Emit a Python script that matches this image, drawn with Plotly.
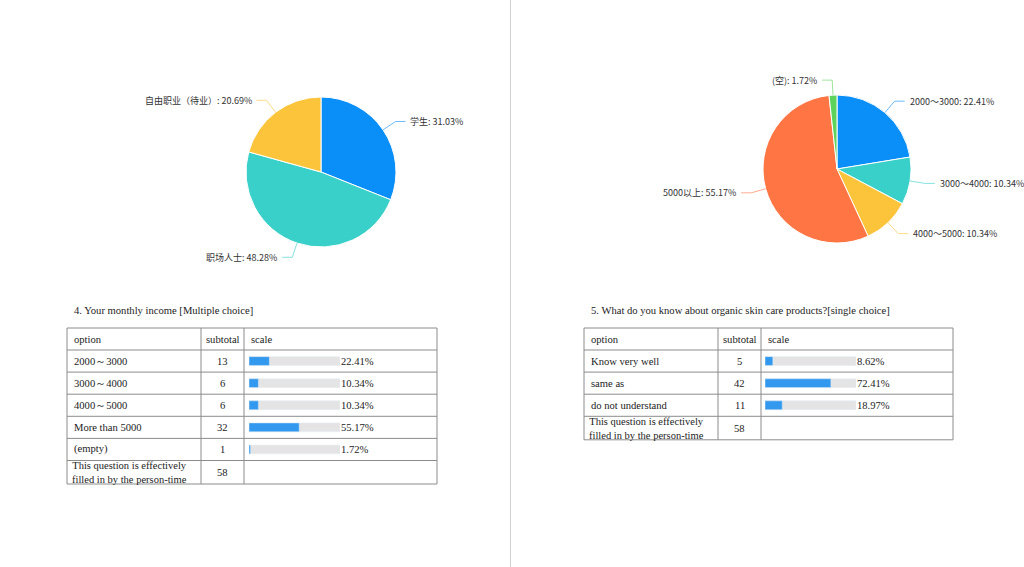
import math
import plotly.graph_objects as go

W, H = 1024, 567

# ---------------- data ----------------
pie1_labels = ["学生", "职场人士", "自由职业（待业）"]
pie1_values = [31.03, 48.28, 20.69]
pie1_colors = ["#0a8ff9", "#38d0c8", "#fcc43b"]

pie2_labels = ["2000～3000", "3000～4000", "4000～5000", "5000以上", "(空)"]
pie2_values = [22.41, 10.34, 10.34, 55.17, 1.72]
pie2_colors = ["#0a8ff9", "#38d0c8", "#fcc43b", "#ff7644", "#5ed35c"]

t1_title = "4. Your monthly income [Multiple choice]"
t1_options = ["2000～3000", "3000～4000", "4000～5000", "More than 5000", "(empty)"]
t1_counts = [13, 6, 6, 32, 1]
t1_pcts = [22.41, 10.34, 10.34, 55.17, 1.72]
t1_total = 58

t2_title = "5. What do you know about organic skin care products?[single choice]"
t2_options = ["Know very well", "same as", "do not understand"]
t2_counts = [5, 42, 11]
t2_pcts = [8.62, 72.41, 18.97]
t2_total = 58

header = ["option", "subtotal", "scale"]
total_label = "This question is effectively<br>filled in by the person-time"


def X(px):
    return px / W


def Y(py):
    return 1 - py / H


fig = go.Figure()
shapes = []
annotations = []

SANS = "Noto Sans CJK SC"
SERIF = "Liberation Serif"


def add_pie(labels, values, colors, cx, cy, r):
    fig.add_trace(go.Pie(
        labels=labels, values=values, sort=False, direction="clockwise",
        rotation=0, textinfo="none", hoverinfo="label+percent",
        marker=dict(colors=colors, line=dict(color="white", width=1)),
        domain=dict(x=[X(cx - r), X(cx + r)], y=[Y(cy + r), Y(cy - r)]),
        showlegend=False,
    ))
    tot = sum(values)
    cum = 0
    for lab, v, c in zip(labels, values, colors):
        mid = (cum + v / 2) / tot * 2 * math.pi
        cum += v
        s, co = math.sin(mid), math.cos(mid)
        x0, y0 = cx + r * s, cy - r * co
        x1, y1 = cx + (r + 15) * s, cy - (r + 15) * co
        side = 1 if s >= 0 else -1
        x2 = x1 + side * 10
        shapes.append(dict(type="path", xref="paper", yref="paper",
                           path=f"M {X(x0)} {Y(y0)} L {X(x1)} {Y(y1)} L {X(x2)} {Y(y1)}",
                           line=dict(color=c, width=1), opacity=0.6))
        annotations.append(dict(x=X(x2 + side * 3), y=Y(y1), xref="paper", yref="paper",
                                text=f"{lab}: {v:.2f}%", showarrow=False,
                                xanchor="left" if side > 0 else "right", yanchor="middle",
                                font=dict(family=SANS, size=9, color="#333333")))


add_pie(pie1_labels, pie1_values, pie1_colors, 321, 172, 75)
add_pie(pie2_labels, pie2_values, pie2_colors, 837, 169, 74)


def add_table(idx, title, options, counts, pcts, total, left, c1, c2, bar0, bar1, right):
    top, head_b, rh, last_h = 328, 350, 22.1, 23.5
    n = len(options)
    rows_bottom = head_b + rh * n
    bottom = rows_bottom + last_h
    line = dict(color="#8c8c8c", width=1)
    f = dict(family=SERIF, size=10.6, color="#222222")
    annotations.append(dict(x=X(left + 5), y=Y(310), text=title, xanchor="left", font=f))
    shapes.append(dict(type="rect", xref="paper", yref="paper", x0=X(left), x1=X(right),
                       y0=Y(top), y1=Y(bottom), line=line))
    for xx in (c1, c2):
        shapes.append(dict(type="line", xref="paper", yref="paper", x0=X(xx), x1=X(xx),
                           y0=Y(top), y1=Y(bottom), line=line))
    for i in range(n + 1):
        yy = head_b + rh * i
        shapes.append(dict(type="line", xref="paper", yref="paper", x0=X(left), x1=X(right),
                           y0=Y(yy), y1=Y(yy), line=line))
    hy = (top + head_b) / 2
    annotations.append(dict(x=X(left + 5), y=Y(hy), text=header[0], xanchor="left"))
    annotations.append(dict(x=X((c1 + c2) / 2), y=Y(hy), text=header[1], xanchor="center"))
    annotations.append(dict(x=X(c2 + 5), y=Y(hy), text=header[2], xanchor="left"))
    for i, (o, c, p) in enumerate(zip(options, counts, pcts)):
        yy = head_b + rh * (i + 0.5)
        annotations.append(dict(x=X(left + 5), y=Y(yy), text=o, xanchor="left"))
        annotations.append(dict(x=X((c1 + c2) / 2), y=Y(yy), text=str(c), xanchor="center"))
        annotations.append(dict(x=X(bar1 - 1), y=Y(yy), text=f"{p:.2f}%", xanchor="left"))
    ly = (rows_bottom + bottom) / 2
    annotations.append(dict(x=X(left + 3), y=Y(ly), text=total_label, xanchor="left",
                            font=dict(family=SERIF, size=10.5, color="#222222")))
    annotations.append(dict(x=X((c1 + c2) / 2), y=Y(ly), text=str(total), xanchor="center"))
    for a in annotations:
        a.setdefault("xref", "paper")
        a.setdefault("yref", "paper")
        a.setdefault("showarrow", False)
        a.setdefault("yanchor", "middle")
        a.setdefault("font", f)
    xa = "xaxis" if idx == 1 else f"xaxis{idx}"
    ya = "yaxis" if idx == 1 else f"yaxis{idx}"
    xr = "x" if idx == 1 else f"x{idx}"
    yr = "y" if idx == 1 else f"y{idx}"
    ypos = list(range(n))
    fig.add_trace(go.Bar(x=[100] * n, y=ypos, orientation="h", xaxis=xr, yaxis=yr,
                         marker=dict(color="#e4e4e4"), width=0.4, showlegend=False,
                         hoverinfo="skip"))
    fig.add_trace(go.Bar(x=pcts, y=ypos, orientation="h", xaxis=xr, yaxis=yr,
                         marker=dict(color="#3399ee", cornerradius=4), width=0.4,
                         showlegend=False, hovertemplate="%{x:.2f}%<extra></extra>"))
    fig.update_layout(**{
        xa: dict(domain=[X(bar0), X(bar1)], range=[0, 100], visible=False, fixedrange=True,
                 anchor=yr),
        ya: dict(domain=[Y(rows_bottom), Y(head_b)], range=[n - 0.5, -0.5], visible=False,
                 fixedrange=True, anchor=xr),
    })


add_table(1, t1_title, t1_options, t1_counts, t1_pcts, t1_total,
          67, 201, 244, 249, 340, 437)
add_table(2, t2_title, t2_options, t2_counts, t2_pcts, t2_total,
          584, 718, 761, 765, 856, 953)

# page divider
shapes.append(dict(type="line", xref="paper", yref="paper", x0=X(510.5), x1=X(510.5),
                   y0=0, y1=1, line=dict(color="#d0d0d0", width=1)))

fig.update_layout(
    width=W, height=H, margin=dict(l=0, r=0, t=0, b=0),
    paper_bgcolor="white", plot_bgcolor="rgba(0,0,0,0)",
    barmode="overlay", shapes=shapes, annotations=annotations,
    showlegend=False,
)

fig.write_html(
    "out.html",
    config={"displayModeBar": False},
    post_script="document.body.style.margin='0';document.body.style.overflow='hidden';",
)
